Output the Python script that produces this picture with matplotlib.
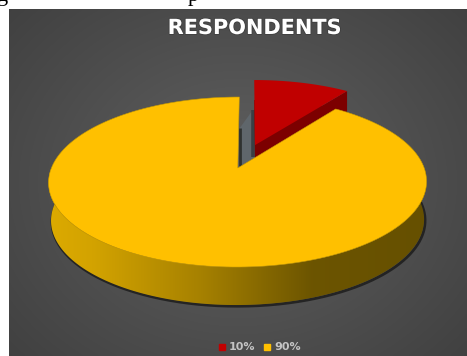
import numpy as np
import matplotlib
matplotlib.use('Agg')
import matplotlib.pyplot as plt
import matplotlib.patheffects as pe
from matplotlib.patches import Polygon, Rectangle
from matplotlib.lines import Line2D

chart_title = 'RESPONDENTS'
shares = [10, 90]
labels = ['10%', '90%']
top_colors = ['#c00000', '#ffc000']
side_colors = ['#7c0000', '#a07c00']

# projection of the unit disc onto the page
cx, cy = 237.8, 168
a, b, k = 186.4, 82.7, 0.165
shear = 1.5
depth = 38
red_depth = 20
explode = 0.305


def project(u, v, drop=0.0):
    d = 1 + k * v
    return cx + shear * v + a * u / d, cy - b * v / d + drop


def sector(start, stop, off=(0.0, 0.0), drop=0.0):
    t = np.radians(np.linspace(start, stop, 200))
    u = np.r_[0, np.sin(t), 0] + off[0]
    v = np.r_[0, np.cos(t), 0] + off[1]
    return np.column_stack(project(u, v, drop))


fig = plt.figure(figsize=(4.67, 3.56), dpi=100)
ax = fig.add_axes([0, 0, 1, 1])

# panel background
gx, gy = np.meshgrid(np.linspace(-1, 1, 230), np.linspace(-1, 1, 175))
shade = np.clip(1 - 0.55 * np.hypot(gx, gy * 0.9), 0, 1)[..., None]
ax.imshow(0.21 + 0.17 * shade * np.ones((175, 230, 3)), extent=(9, 467, 356, 9),
          aspect='auto', zorder=0, interpolation='bilinear')

yellow_start = 360 * shares[0] / sum(shares)
mid = np.radians(yellow_start / 2)
off = (explode * np.sin(mid), explode * np.cos(mid))

# inner walls showing through the cut
xa, ya = project(0, 0)
ax.add_patch(Polygon([(xa + 2, ya - 40), (xa + 15, ya - 58), (xa + 17, ya - 10), (xa + 1, ya)],
                     fc='#5f666b', ec='none', zorder=1.2))
ax.plot([xa + 14.8, xa + 14.8], [ya - 58, ya - 11], color='#3a3f44', lw=2.6, solid_capstyle='butt', zorder=1.5)
ax.plot([xa + 2.4, xa + 2.4], [ya - 40, ya - 2], color='#2f3230', lw=2, solid_capstyle='butt', zorder=1.5)

# exploded slice, behind the big one
red_top = sector(0, yellow_start, off)
red_low = sector(0, yellow_start, off, red_depth)
corner = 200
ax.add_patch(Polygon(red_low, fc=side_colors[0], ec='none', zorder=2))
ax.add_patch(Polygon([red_top[0], red_top[corner], red_low[corner], red_low[0]],
                     fc=side_colors[0], ec='none', zorder=2))
ax.add_patch(Polygon(red_top, fc=top_colors[0], ec='none', zorder=3))

# front rim of the big slice
t = np.radians(np.linspace(75, 285, 400))
ux, vy = np.sin(t), np.cos(t)
tx, ty = project(ux, vy)
scale = 0.987
bx, by = project(ux, vy, depth)
bx = cx + (bx - cx) * scale
rim = np.r_[np.column_stack((tx, ty)), np.column_stack((bx, by))[::-1]]

ax.plot(bx + 1, by + 1.2, color='#161616', lw=2, alpha=0.75, zorder=3.5)
rim_patch = Polygon(rim, fc='none', ec='none', zorder=4)
ax.add_patch(rim_patch)
ramp = np.interp(np.linspace(0, 1, 300), [0, 0.12, 0.4, 0.7, 1],
                 [0, 0.08, 0.45, 0.95, 1])[None, :, None]
c0 = np.array([0xdc, 0xaa, 0x00]) / 255
c1 = np.array([0x66, 0x50, 0x00]) / 255
im = ax.imshow(c0 + (c1 - c0) * ramp, extent=(48, 426, 310, 170), aspect='auto', zorder=4)
im.set_clip_path(rim_patch)

ax.add_patch(Polygon(sector(yellow_start, 360), fc=top_colors[1], ec='#c89a00', lw=0.4, zorder=5))

ax.set_xlim(0, 467)
ax.set_ylim(356, 0)
ax.axis('off')

# caption of the page above the panel, only its descenders reach this area
for x, ch in [(3, 'g'), (193, 'p')]:
    ax.text(x, 0.5, ch, color='black', fontsize=16, family='Liberation Serif', ha='center', va='baseline',
            clip_on=True, zorder=7)

ax.text(254.5, 28, chart_title, color='white', fontsize=15, fontweight='bold', ha='center', va='center',
        path_effects=[pe.withStroke(linewidth=1.2, foreground='#2a2a2a', alpha=0.4)], zorder=7)

handles = [Line2D([], [], ls='none', marker='s', ms=5, color=c) for c in top_colors]
ax.legend(handles, labels, loc='center', bbox_to_anchor=(258.5 / 467, 1 - 347.5 / 356), ncols=2, frameon=False,
          prop={'size': 8, 'weight': 'bold'}, labelcolor='#c4c4c4', handletextpad=0.1, columnspacing=0.6,
          handlelength=1.0)

fig.savefig('out.png', dpi=100)
